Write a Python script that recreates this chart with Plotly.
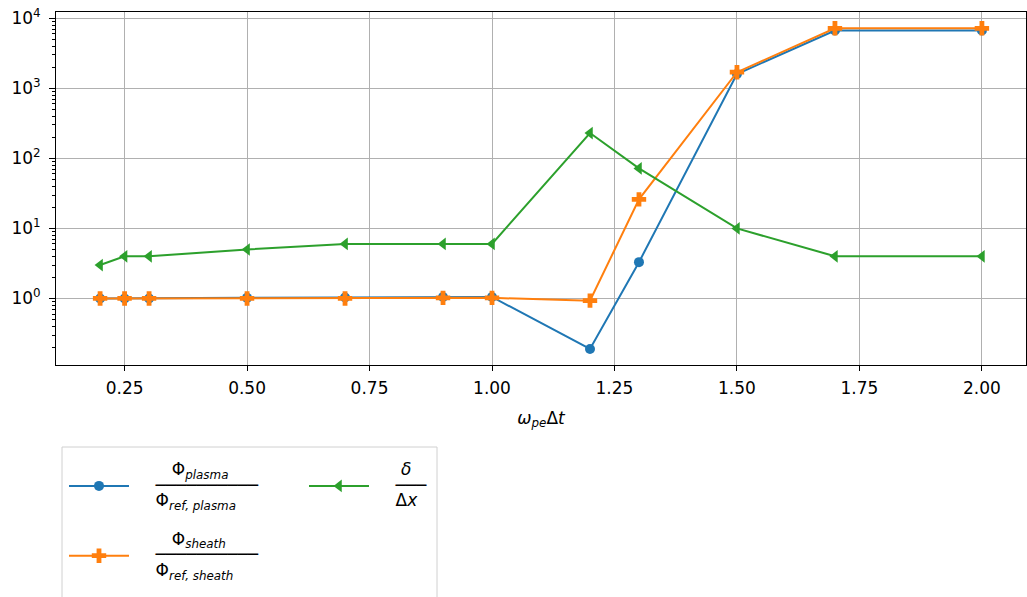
import plotly.graph_objects as go

# Time step sweep (omega_pe * dt)
dt = [0.2, 0.25, 0.3, 0.5, 0.7, 0.9, 1.0, 1.2, 1.3, 1.5, 1.7, 2.0]

# Normalised potentials and sheath resolution
phi_plasma = [1.0, 1.0, 1.0, 1.02, 1.03, 1.05, 1.05, 0.19, 3.3, 1600, 6700, 6700]
phi_sheath = [1.0, 1.0, 1.0, 1.0, 1.0, 1.02, 1.02, 0.93, 26, 1700, 7200, 7200]
delta_dx = [3, 4, 4, 5, 6, 6, 6, 230, 72, 10, 4, 4]

# Axis ticks
x_ticks = [0.25, 0.5, 0.75, 1.0, 1.25, 1.5, 1.75, 2.0]
x_labels = ["0.25", "0.50", "0.75", "1.00", "1.25", "1.50", "1.75", "2.00"]
y_exponents = [0, 1, 2, 3, 4]

BLUE, ORANGE, GREEN = "#1f77b4", "#ff7f0e", "#2ca02c"
FONT = "DejaVu Sans"
RULE = "\u2500"
NB = "\u00a0"


def frac(num, den, lead, pad_num, pad_den, width):
    """Three-line fraction: numerator, rule, denominator (glyphs at 17px)."""
    def big(s):
        return f'<span style="font-size:17px">{s}</span>'
    return "<br>".join([
        big(NB * (lead + pad_num) + num),
        big(NB * lead + RULE * width),
        big(NB * (lead + pad_den) + den),
    ])


lab_plasma = frac("Φ<sub><i>plasma</i></sub>", "Φ<sub><i>ref, plasma</i></sub>", 4, 3, 0, 10)
lab_sheath = frac("Φ<sub><i>sheath</i></sub>", "Φ<sub><i>ref, sheath</i></sub>", 4, 3, 0, 10)
lab_delta = frac("<i>δ</i>", "Δ<i>x</i>", 4, 1, 0, 3)

fig = go.Figure()
fig.add_trace(go.Scatter(
    x=dt, y=phi_plasma, mode="lines+markers", name=lab_plasma,
    line=dict(color=BLUE, width=2), marker=dict(symbol="circle", size=10, color=BLUE),
    legend="legend", legendgroup="a"))
fig.add_trace(go.Scatter(
    x=dt, y=phi_sheath, mode="lines+markers", name=lab_sheath,
    line=dict(color=ORANGE, width=2), marker=dict(symbol="cross", size=12, color=ORANGE),
    legend="legend", legendgroup="b"))
fig.add_trace(go.Scatter(
    x=dt, y=delta_dx, mode="lines+markers", name=lab_delta,
    line=dict(color=GREEN, width=2), marker=dict(symbol="triangle-left", size=11, color=GREEN),
    legend="legend2", legendgroup="c"))

W, H = 1027, 597
ML, MR, MT, MB = 56, 1, 12, 232
pw, ph = W - ML - MR, H - MT - MB


def px_x(p):
    return (p - ML) / pw


def px_y(p):
    return (H - MB - p) / ph


# Legend frame
fig.add_shape(type="rect", xref="paper", yref="paper",
              x0=px_x(62), x1=px_x(437), y0=px_y(620), y1=px_y(447),
              line=dict(color="#d0d0d0", width=1), fillcolor="white", layer="above")

legend_common = dict(
    bgcolor="rgba(0,0,0,0)", borderwidth=0, orientation="v",
    font=dict(family=FONT, size=12, color="black"),
    itemwidth=60, tracegroupgap=20, xanchor="left", yanchor="top",
)

minor_vals = [m * 10 ** e for e in range(-1, 4) for m in range(2, 10)]

fig.update_layout(
    width=W, height=H,
    margin=dict(l=ML, r=MR, t=MT, b=MB),
    paper_bgcolor="white", plot_bgcolor="white",
    font=dict(family=FONT, size=17, color="black"),
    legend=dict(x=px_x(64), y=px_y(456), **legend_common),
    legend2=dict(x=px_x(304), y=px_y(456), **legend_common),
    xaxis=dict(
        range=[0.11, 2.09], tickvals=x_ticks, ticktext=x_labels,
        showgrid=True, gridcolor="#b0b0b0", gridwidth=1,
        showline=True, linecolor="black", linewidth=1, mirror=True,
        ticks="outside", ticklen=5, tickcolor="black", zeroline=False,
        ticklabelstandoff=3,
        title=dict(text="<i>ω</i><sub><i>pe</i></sub>Δ<i>t</i>",
                   font=dict(family=FONT, size=17), standoff=14),
    ),
    yaxis=dict(
        type="log", range=[-0.95, 4.09],
        tickvals=[10 ** e for e in y_exponents],
        ticktext=[f"10<sup>{e}</sup>" for e in y_exponents],
        showgrid=True, gridcolor="#b0b0b0", gridwidth=1,
        showline=True, linecolor="black", linewidth=1, mirror=True,
        ticks="outside", ticklen=6, tickcolor="black", zeroline=False,
        ticklabelstandoff=5,
        minor=dict(tickmode="array", tickvals=minor_vals, ticks="outside",
                   ticklen=3, tickcolor="black", showgrid=False),
    ),
)

fig.write_html("out.html")
